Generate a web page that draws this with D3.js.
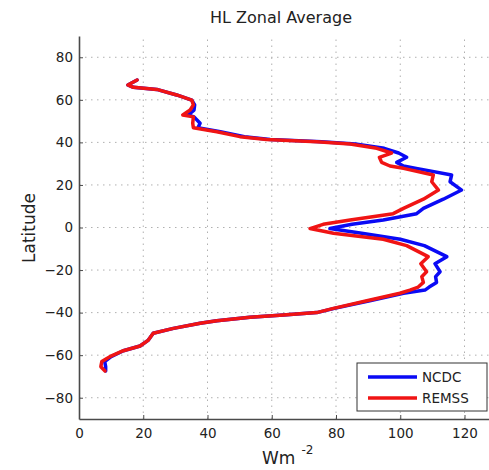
<!DOCTYPE html>
<html>
<head>
<meta charset="utf-8">
<script src="https://cdn.jsdelivr.net/npm/d3@7"></script>
<style>
  body { margin: 0; background: #fff; }
  svg { font-family: "DejaVu Sans", sans-serif; }
</style>
</head>
<body>
<div id="chart"></div>
<script>
// latitudes (shared by both series), north to south
const latitudes = [69.3, 67, 65.9, 64.9, 62.3, 59.9, 57.6, 55.2, 52.9, 52, 49, 46.9, 45, 42.7, 41.4, 40.3, 39.2, 37.2, 35, 33, 30.6, 28.9, 27.8, 24.7, 21.5, 17.6, 13.3, 9, 6.5, 3.5, 1.5, -0.5, -2.7, -5.5, -8.5, -13.7, -17, -20.8, -23.1, -25.8, -28, -29.4, -30.9, -34.4, -38, -40, -41.1, -42.2, -43.8, -45, -47.4, -49.7, -52.9, -55.7, -57.9, -60.7, -63, -65.4, -67.4];
const ncdc = [18.1, 15.2, 16.9, 24.2, 30.4, 35.1, 36.0, 35.8, 34.0, 35.8, 37.7, 37.0, 44.0, 51.5, 59.5, 75.5, 86, 95, 99.5, 102, 98.9, 101, 105, 116, 115.5, 119.1, 113.4, 107.2, 105.1, 94.7, 85, 78.1, 88, 100, 107.5, 114.5, 110.8, 112.4, 111, 111.3, 109, 107.7, 101, 90.5, 79.5, 74, 63.6, 53.2, 42.9, 37.7, 29.4, 23.1, 21.6, 19, 13.8, 10, 8, 8.3, 8.3];
const remss = [18.1, 15.2, 16.9, 24.2, 30.4, 35.1, 35.6, 34.6, 32.3, 35.6, 35.4, 35.6, 42.9, 50.1, 58.4, 74, 84.4, 92.7, 97.3, 93.5, 94.2, 96.8, 101, 110.3, 109.8, 111.9, 107.2, 101, 97.8, 84.4, 76, 71.9, 79.2, 94.7, 102, 108.7, 106.4, 108.2, 106.7, 107.2, 105.6, 103, 99.9, 89.6, 79.2, 74, 63.6, 53.2, 42.9, 37.7, 29.4, 23.1, 21.6, 19, 13.8, 9.6, 7.1, 6.8, 8.1];
const seriesNames = ["NCDC", "REMSS"];
const seriesColors = ["#0a0af5", "#f01414"];
const xTicks = [0, 20, 40, 60, 80, 100, 120];
const yTicks = [-80, -60, -40, -20, 0, 20, 40, 60, 80];

const width = 489, height = 470;
const margin = { top: 36, left: 79, bottom: 51 };

const svg = d3.select("#chart").append("svg")
  .attr("width", width)
  .attr("height", height);

const x = d3.scaleLinear().domain([0, 130]).range([margin.left, margin.left + 130 * 3.2125]);
const y = d3.scaleLinear().domain([-90, 90]).range([height - margin.bottom, margin.top]);

// dotted grid
const grid = svg.append("g").attr("stroke", "#b0b0b0").attr("stroke-width", 1).attr("stroke-dasharray", "1.5,4.5");
grid.selectAll(".gx").data(xTicks.filter(d => d > 0)).join("line")
  .attr("x1", d => x(d)).attr("x2", d => x(d))
  .attr("y1", y(-90)).attr("y2", y(90));
grid.selectAll(".gy").data(yTicks).join("line")
  .attr("x1", x(0)).attr("x2", x(130))
  .attr("y1", d => y(d)).attr("y2", d => y(d));

// curves
const rows = latitudes.map((lat, i) => ({ lat, values: [ncdc[i], remss[i]] }));
seriesNames.forEach((name, k) => {
  const line = d3.line().x(d => x(d.values[k])).y(d => y(d.lat));
  svg.append("path")
    .datum(rows)
    .attr("fill", "none")
    .attr("stroke", seriesColors[k])
    .attr("stroke-width", 3.5)
    .attr("stroke-linejoin", "round")
    .attr("stroke-linecap", "round")
    .attr("d", line);
});

// axes
const xAxis = svg.append("g")
  .attr("transform", `translate(0,${y(-90)})`)
  .call(d3.axisBottom(x).tickValues(xTicks).tickSizeInner(-4).tickSizeOuter(0).tickPadding(9));
const yAxis = svg.append("g")
  .attr("transform", `translate(${x(0)},0)`)
  .call(d3.axisLeft(y).tickValues(yTicks).tickSizeInner(-4).tickSizeOuter(0).tickPadding(6));
[xAxis, yAxis].forEach(a => {
  a.select(".domain").attr("stroke", "#4a4a4a").attr("stroke-width", 1.6);
  a.selectAll(".tick line").attr("stroke", "#4a4a4a");
  a.selectAll(".tick text").attr("fill", "#222").style("font-family", "DejaVu Sans").style("font-size", "13.5px");
});

// title and labels
svg.append("text")
  .attr("x", 281).attr("y", 23)
  .attr("text-anchor", "middle")
  .style("font-size", "16px")
  .attr("fill", "#222")
  .text("HL Zonal Average");

svg.append("text")
  .attr("transform", "translate(35,228) rotate(-90)")
  .attr("text-anchor", "middle")
  .style("font-size", "17px")
  .attr("fill", "#222")
  .text("Latitude");

const xl = svg.append("text")
  .attr("x", 262).attr("y", 464)
  .style("font-size", "17px")
  .attr("fill", "#222")
  .text("Wm");
xl.append("tspan")
  .attr("dx", 6).attr("dy", -10)
  .style("font-size", "12px")
  .text("-2");

// legend
const legend = svg.append("g").attr("transform", "translate(357,363)");
legend.append("rect")
  .attr("width", 130).attr("height", 48)
  .attr("fill", "#fff").attr("stroke", "#333").attr("stroke-width", 1);
seriesNames.forEach((name, k) => {
  const ly = 14 + k * 21;
  legend.append("line")
    .attr("x1", 11).attr("x2", 60)
    .attr("y1", ly).attr("y2", ly)
    .attr("stroke", seriesColors[k]).attr("stroke-width", 3.5);
  legend.append("text")
    .attr("x", 65).attr("y", ly + 5)
    .style("font-size", "13.5px")
    .attr("fill", "#222")
    .text(name);
});
</script>
</body>
</html>
